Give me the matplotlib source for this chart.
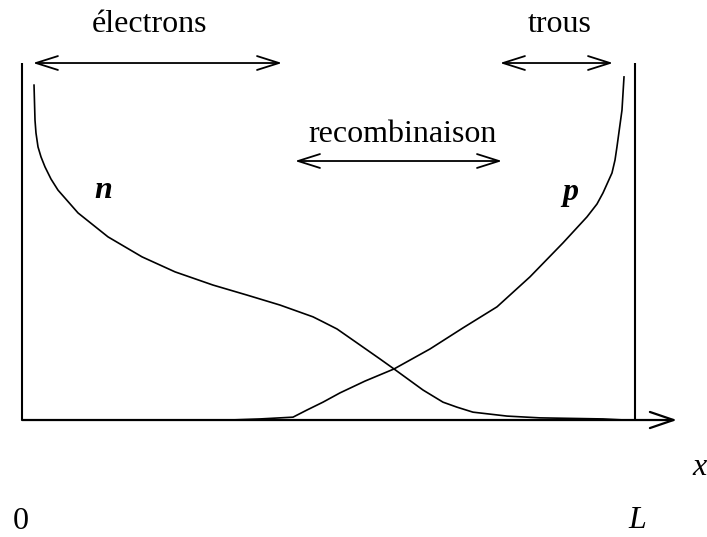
import matplotlib
matplotlib.use("Agg")
import matplotlib.pyplot as plt

plt.rcParams['font.family'] = ['Liberation Serif', 'DejaVu Serif']

# positions as fraction of L, concentrations normalised to the box height
n_x = [0.0196, 0.0212, 0.0228, 0.0261, 0.0310, 0.0375, 0.0473, 0.0587, 0.0914,
       0.1403, 0.1958, 0.2496, 0.3116, 0.3670, 0.4209, 0.4747, 0.4910, 0.5139,
       0.5465, 0.5840, 0.6069, 0.6542, 0.6868, 0.7096, 0.7357, 0.7912, 0.8450,
       0.9478, 0.9837]
n_y = [0.938, 0.840, 0.804, 0.765, 0.737, 0.709, 0.675, 0.644, 0.580,
       0.513, 0.457, 0.415, 0.378, 0.350, 0.322, 0.289, 0.275, 0.255,
       0.216, 0.171, 0.143, 0.084, 0.050, 0.036, 0.022, 0.011, 0.006,
       0.003, 0.0]

p_x = [0.2790, 0.3393, 0.3883, 0.4209, 0.4421, 0.4649, 0.4910, 0.5188, 0.5595,
       0.6069, 0.6656, 0.7194, 0.7749, 0.8287, 0.8825, 0.9217, 0.9380, 0.9478,
       0.9625, 0.9674, 0.9706, 0.9788, 0.9821]
p_y = [0.0, 0.0, 0.003, 0.006, 0.008, 0.028, 0.050, 0.076, 0.109,
       0.143, 0.199, 0.258, 0.317, 0.401, 0.496, 0.569, 0.605, 0.636,
       0.692, 0.728, 0.765, 0.868, 0.961]

# double arrows: label, x start, x end, height
arrow_labels = ["électrons", "trous", "recombinaison"]
arrow_x0 = [0.0179, 0.7798, 0.4454]
arrow_x1 = [0.4241, 0.9641, 0.7830]
arrow_y = [1.0, 1.0, 0.7255]

fig = plt.figure(figsize=(7.07, 5.37), dpi=100)
ax = fig.add_axes([0, 0, 1, 1])
ax.set_xlim(-0.0359, 1.1175)
ax.set_ylim(-0.3277, 1.1765)
ax.axis('off')

# box walls
ax.plot([0, 0], [0, 1], color='black', lw=1.5, solid_capstyle='butt')
ax.plot([1, 1], [0, 1], color='black', lw=1.5, solid_capstyle='butt')

# x axis with open arrow head
ax.annotate("", xy=(1.0685, 0), xytext=(0, 0),
            arrowprops=dict(arrowstyle='->,head_length=1.7,head_width=0.58',
                            mutation_scale=10, lw=1.6, color='black',
                            shrinkA=0, shrinkB=0))

# concentration curves
ax.plot(n_x, n_y, color='black', lw=1.2, solid_joinstyle='round')
ax.plot(p_x, p_y, color='black', lw=1.2, solid_joinstyle='round')

# double arrows and their labels
for lab, x0, x1, y in zip(arrow_labels, arrow_x0, arrow_x1, arrow_y):
    ax.annotate("", xy=(x1, y), xytext=(x0, y),
                arrowprops=dict(arrowstyle='<->,head_length=1.58,head_width=0.5',
                                mutation_scale=10, lw=1.3, color='black',
                                shrinkA=0, shrinkB=0))

fs = 23
ax.text(0.2088, 1.087, "électrons", fontsize=fs, ha='center', va='baseline')
ax.text(0.8777, 1.087, "trous", fontsize=fs, ha='center', va='baseline')
ax.text(0.620, 0.779, "recombinaison", fontsize=fs, ha='center', va='baseline')
ax.text(0.132, 0.622, "n", fontsize=fs, ha='center', va='baseline',
        style='italic', weight='bold')
ax.text(0.894, 0.616, "p", fontsize=fs, ha='center', va='baseline',
        style='italic', weight='bold')
ax.text(1.106, -0.154, "x", fontsize=fs, ha='center', va='baseline', style='italic')
ax.text(-0.0016, -0.305, "0", fontsize=fs, ha='center', va='baseline')
ax.text(1.004, -0.3025, "L", fontsize=fs, ha='center', va='baseline', style='italic')

fig.savefig("out.png", dpi=100)
